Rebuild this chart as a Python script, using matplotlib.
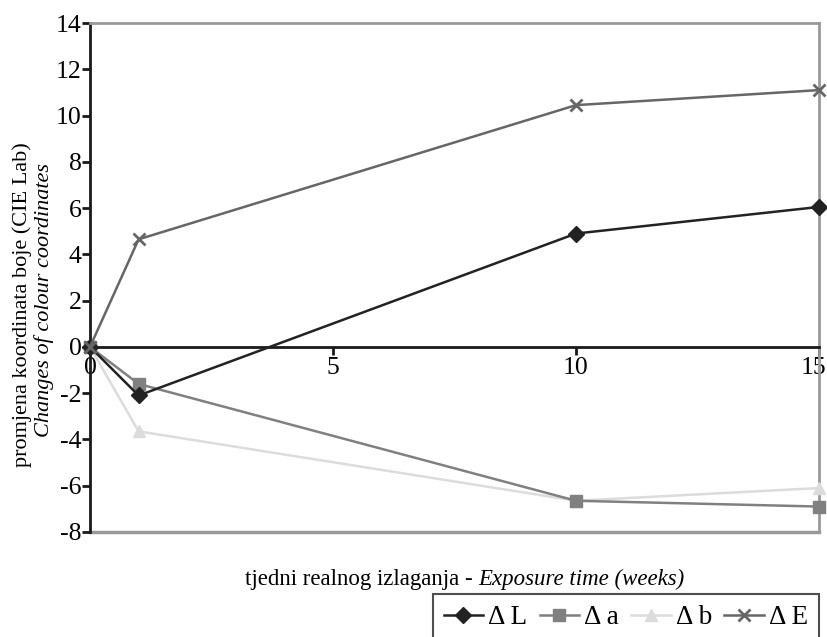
import matplotlib.pyplot as plt
from matplotlib.transforms import ScaledTranslation

# data
weeks = [0, 1, 10, 15]
delta_L = [0, -2.1, 4.9, 6.05]
delta_a = [0, -1.6, -6.65, -6.9]
delta_b = [0, -3.65, -6.65, -6.1]
delta_E = [0, 4.65, 10.45, 11.1]

plt.rcParams['font.family'] = ['Liberation Serif', 'DejaVu Serif']
plt.rcParams['axes.unicode_minus'] = False

fig = plt.figure(figsize=(8.27, 6.37), dpi=100)
ax = fig.add_axes([90 / 827, 1 - 532 / 637, (819 - 90) / 827, (532 - 23) / 637])

ax.plot(weeks, delta_L, color='#222222', lw=1.8, marker='D', ms=8, label='Δ L', clip_on=False, zorder=5)
ax.plot(weeks, delta_a, color='#808080', lw=1.8, marker='s', ms=8, label='Δ a', clip_on=False, zorder=4)
ax.plot(weeks, delta_b, color='#dcdcdc', lw=1.8, marker='^', ms=9, label='Δ b', clip_on=False, zorder=3)
ax.plot(weeks, delta_E, color='#666666', lw=1.8, marker='x', ms=8, mew=2, label='Δ E', clip_on=False, zorder=6)

ax.set_xlim(0, 15)
ax.set_ylim(-8, 14)
ax.set_xticks([0, 5, 10, 15])
ax.set_yticks(range(-8, 15, 2))

# frame: dark left axis and x axis at zero, grey box elsewhere
ax.spines['left'].set_color('#1a1a1a')
ax.spines['left'].set_linewidth(2)
ax.spines['bottom'].set_position(('data', 0))
ax.spines['bottom'].set_color('#1a1a1a')
ax.spines['bottom'].set_linewidth(2)
ax.spines['top'].set_color('#999999')
ax.spines['top'].set_linewidth(2)
ax.spines['right'].set_color('#999999')
ax.spines['right'].set_linewidth(2)
ax.axhline(-8, color='#999999', lw=2.5, clip_on=False, zorder=1)

ax.tick_params(axis='both', labelsize=18.5, direction='out', length=6, width=2, color='#1a1a1a')
ax.tick_params(axis='x', pad=1)
ax.tick_params(axis='y', pad=0)

# keep the last x label inside the picture
last = ax.get_xticklabels()[-1]
last.set_transform(last.get_transform() + ScaledTranslation(-6 / 100, 0, fig.dpi_scale_trans))

fig.text(22 / 827, 1 - 305 / 637, 'promjena koordinata boje (CIE Lab)', rotation=90,
         ha='center', va='center', fontsize=16)
fig.text(44 / 827, 1 - 300 / 637, 'Changes of colour coordinates', rotation=90,
         ha='center', va='center', fontsize=16, style='italic')
fig.text(478 / 827, 1 - 579 / 637, 'tjedni realnog izlaganja - ', ha='right', va='center', fontsize=16.5)
fig.text(478 / 827, 1 - 579 / 637, 'Exposure time (weeks)', ha='left', va='center', fontsize=16.5, style='italic')

leg = fig.legend(loc='lower right', bbox_to_anchor=(819 / 827, -4 / 637), ncol=4, fontsize=19.5,
                 frameon=True, fancybox=False, handlelength=1.45, handletextpad=0.2,
                 columnspacing=0.45, borderpad=0.4, borderaxespad=0)
leg.get_frame().set_edgecolor('#222222')
leg.get_frame().set_linewidth(1.5)

fig.savefig('out.png', dpi=100)
